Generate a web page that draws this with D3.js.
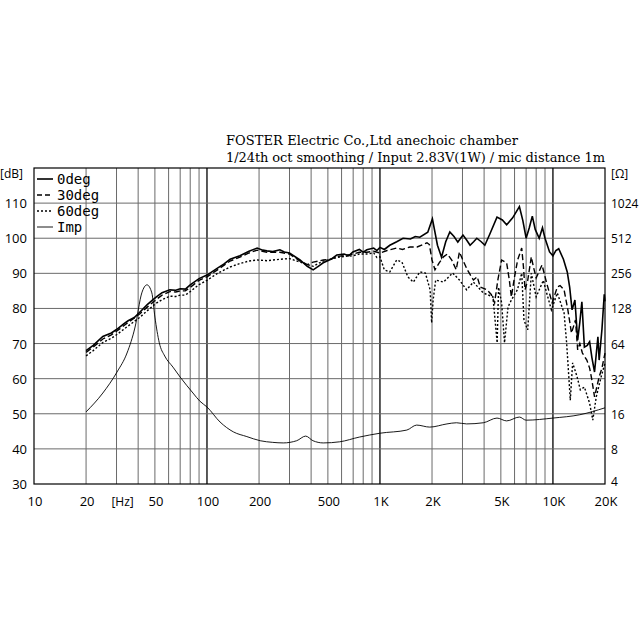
<!DOCTYPE html>
<html>
<head>
<meta charset="utf-8">
<script src="https://cdn.jsdelivr.net/npm/d3@7"></script>
<style>
  body { margin: 0; background: #fff; }
  svg { display: block; }
</style>
</head>
<body>
<div id="chart"></div>
<script>
// frequency response, [Hz, dB]
var deg0 = [
  [20, 68], [22, 69.5], [25, 72], [28, 73], [30, 74], [33, 75.6], [35, 76.5], [38, 77.4], [41, 79],
  [45, 81], [48, 82.2], [51, 83.3], [55, 84.5], [61, 85.3], [66, 85.2], [70, 85.6], [75, 85.5],
  [80, 86.7], [90, 88.5], [100, 89.5], [115, 91.5], [125, 92.6], [136, 94], [155, 95], [175, 96.3],
  [195, 97.2], [210, 96.6], [222, 96.4], [240, 96.2], [264, 96.7], [280, 96.1], [300, 95.8],
  [345, 93.8], [380, 92], [411, 91], [440, 92], [470, 93], [520, 94], [563, 95.2],
  [620, 95.5], [660, 95], [697, 96.1], [760, 96.8], [800, 96], [840, 96.7], [920, 97.2], [960, 96.5],
  [1000, 97.4], [1060, 96.8], [1140, 98], [1250, 99], [1360, 100], [1500, 99.8], [1600, 100.5],
  [1700, 100.3], [1890, 101.7], [2010, 105.5], [2150, 98], [2270, 94.6], [2400, 99], [2535, 101.8],
  [2680, 100.5], [2820, 98.9], [3020, 100.9], [3170, 99.5], [3320, 98], [3480, 99], [3630, 100],
  [3850, 99], [4040, 98], [4300, 101], [4750, 106], [5100, 105.2], [5400, 103.8], [5850, 105.8],
  [6400, 109], [6700, 105], [7000, 100], [7300, 103], [7600, 106.3], [7900, 102.5], [8330, 100],
  [8700, 103], [9000, 100], [9560, 96.1], [10000, 95], [10400, 96.5], [10800, 97], [11500, 94],
  [12100, 90.4], [12500, 86], [12900, 79.6], [13400, 82.4], [13900, 71], [14300, 76], [14700, 81.9],
  [15200, 69], [15800, 69.5], [16300, 70.5], [16800, 66], [17400, 61.9], [17800, 67], [18200, 71.9],
  [18500, 65.3], [19200, 74], [19800, 84], [20000, 82]
];

var deg30 = [
  [20, 67.5], [22, 69], [25, 71.3], [28, 72.5], [30, 73.5], [35, 76], [41, 78.5], [45, 80.3], [51, 82.6],
  [55, 83.8], [61, 84.8], [66, 84.7], [70, 85], [75, 85], [80, 86], [90, 88], [100, 89],
  [115, 91], [136, 93.5], [155, 94.6], [175, 95.8], [195, 96.6], [222, 96], [264, 96],
  [300, 95.5], [345, 93.5], [380, 92.5], [411, 93.2], [440, 93.5], [470, 93.8], [520, 94], [563, 94.8],
  [620, 95], [697, 95.5], [760, 96], [840, 96], [920, 96.3], [1000, 95.8], [1100, 96.5], [1250, 97.2],
  [1350, 96.8], [1490, 97.5], [1640, 97.5], [1870, 98.7], [1930, 98.2], [2000, 93.8], [2080, 91],
  [2200, 93], [2330, 94.7], [2450, 95.5], [2600, 93.8], [2760, 91], [2880, 96.1], [3000, 94],
  [3200, 91], [3470, 88.1], [3650, 89], [3800, 86.1], [4150, 85.3], [4400, 84], [4600, 81.6],
  [4800, 88], [5050, 93.8], [5400, 93], [5600, 88], [5750, 83.3], [6000, 89], [6250, 93.8],
  [6600, 97.2], [6750, 92], [6900, 85.3], [7150, 88], [7500, 94.7], [7700, 92], [8000, 88.7],
  [8650, 92.4], [9200, 87.2], [9900, 81.6], [10600, 86.1], [11000, 86.5], [11600, 85.3],
  [12200, 79.6], [12800, 73], [13500, 76.7], [13900, 68.2], [14300, 70], [14800, 67.3],
  [15700, 65.3], [16300, 63], [16800, 59.6], [17400, 54.8], [18000, 58], [18500, 60.5],
  [19200, 63], [20000, 67.3]
];

var deg60 = [
  [20, 66.5], [22, 68], [25, 70.3], [28, 71.5], [30, 72.5], [35, 75], [41, 77.5], [45, 79.3], [51, 81.5],
  [55, 82.5], [61, 83.5], [66, 83.4], [70, 83.8], [75, 83.8], [80, 84.8], [90, 86.8], [100, 88],
  [115, 90], [136, 91.8], [155, 92.8], [175, 93.5], [195, 93.8], [222, 93.6], [264, 94],
  [300, 94.2], [345, 93.2], [380, 92.5], [411, 92], [440, 92.8], [470, 93.5], [520, 94], [563, 94.5],
  [620, 94.8], [697, 95], [760, 95.5], [840, 95.5], [920, 95.8], [960, 94.5], [1000, 94.7],
  [1060, 91], [1140, 90.4], [1250, 93.8], [1340, 93.2], [1450, 89], [1560, 87.5], [1700, 90.4],
  [1830, 90.1], [1950, 85.3], [1990, 75.9], [2030, 82.4], [2100, 88.1], [2330, 87.5], [2630, 90.1],
  [2880, 88.1], [3170, 85.3], [3470, 87.5], [3960, 84.4], [4500, 83.3], [4760, 70.2], [4850, 86],
  [5050, 81.6], [5250, 70.2], [5500, 80.4], [5750, 82.4], [6230, 85.3], [6600, 90], [6800, 76.7],
  [7150, 73.9], [7500, 90], [8000, 83.3], [8800, 88], [9200, 84.4], [9800, 79.6], [10600, 84.4],
  [11600, 78.7], [12000, 70.2], [12600, 53.9], [13000, 64.5], [13800, 60.5], [14400, 56.8],
  [15200, 57.6], [16300, 53], [17000, 48.2], [17800, 54.8], [19000, 60.5], [20000, 64.5]
];

// impedance, [Hz, ohm]
var imp = [
  [20, 16.6], [25, 24.1], [30.2, 36.5], [34.5, 53.1], [38.4, 88.7], [42, 174], [45, 204],
  [48, 174], [50, 108], [53, 65], [57, 50], [63.6, 40.2], [70, 33], [83, 24.1], [91, 20.5],
  [100, 18.3], [119, 13.6], [142, 11.2], [170, 10.2], [203, 9.4], [240, 9.1], [276, 9.0],
  [330, 9.4], [372, 10.3], [410, 9.4], [470, 9.0], [585, 9.2], [760, 10.1], [1000, 10.9],
  [1430, 11.6], [1630, 12.8], [1940, 12.3], [2440, 13.1], [2770, 13.4], [3170, 13.1], [3960, 13.4],
  [4750, 14.7], [5400, 13.9], [6400, 15.0], [7000, 14.1], [10000, 14.7], [14300, 15.7], [20000, 18.0]
];

var dbTicks = [30, 40, 50, 60, 70, 80, 90, 100, 110];
var ohmTicks = [4, 8, 16, 32, 64, 128, 256, 512, 1024];
var freqLabels = [
  [10, "10"], [20, "20"], [50, "50"], [100, "100"], [200, "200"], [500, "500"],
  [1000, "1K"], [2000, "2K"], [5000, "5K"], [10000, "10K"], [20000, "20K"]
];
var legendItems = ["0deg", "30deg", "60deg", "Imp"];
var titleLines = [
  "FOSTER Electric Co.,Ltd  anechoic chamber",
  "1/24th oct smoothing / Input 2.83V(1W) / mic distance 1m"
];

var ctx = { w: 640, h: 640, left: 34, right: 605, top: 168, bottom: 484 };

var svg = d3.select("#chart").append("svg")
    .attr("width", ctx.w)
    .attr("height", ctx.h);

var x = d3.scaleLog().domain([10, 20000]).range([ctx.left, ctx.right]);
var y = d3.scaleLinear().domain([30, 120]).range([ctx.bottom, ctx.top]);
var yOhm = d3.scaleLog().base(2).domain([4, 2048]).range([ctx.bottom, ctx.top]);

// grid
var vLines = [];
[10, 100, 1000, 10000].forEach(function(dec) {
    for (var m = 1; m <= 9; m++) {
        var f = dec * m;
        if (f > 10 && f < 20000) vLines.push(f);
    }
});
var isDecade = d => [100, 1000, 10000].includes(d);
var grid = svg.append("g");
grid.selectAll("line.v")
    .data(vLines)
    .enter()
    .append("line")
    .attr("x1", d => x(d)).attr("x2", d => x(d))
    .attr("y1", ctx.top).attr("y2", ctx.bottom)
    .attr("stroke", d => isDecade(d) ? "#000" : "#6a6a6a")
    .attr("stroke-width", d => isDecade(d) ? 1.3 : 1);

grid.selectAll("line.h")
    .data(dbTicks.slice(1))
    .enter()
    .append("line")
    .attr("x1", ctx.left).attr("x2", ctx.right)
    .attr("y1", d => y(d)).attr("y2", d => y(d))
    .attr("stroke", "#6a6a6a")
    .attr("stroke-width", 1);

// curves
var dbLine = d3.line().x(d => x(d[0])).y(d => y(d[1]));
var ohmLine = d3.line().x(d => x(d[0])).y(d => yOhm(d[1])).curve(d3.curveMonotoneX);

var curves = svg.append("g").attr("fill", "none").attr("stroke", "#000");
curves.append("path").attr("d", ohmLine(imp)).attr("stroke-width", 0.9);
curves.append("path").attr("d", dbLine(deg60)).attr("stroke-width", 1.4).attr("stroke-dasharray", "2,2");
curves.append("path").attr("d", dbLine(deg30)).attr("stroke-width", 1.4).attr("stroke-dasharray", "6,3");
curves.append("path").attr("d", dbLine(deg0)).attr("stroke-width", 1.6);

// frame
svg.append("rect")
    .attr("x", ctx.left).attr("y", ctx.top)
    .attr("width", ctx.right - ctx.left).attr("height", ctx.bottom - ctx.top)
    .attr("fill", "none").attr("stroke", "#000").attr("stroke-width", 1.2);

// axis labels
var axisFont = "'Open Sans', sans-serif";
svg.selectAll("text.db")
    .data(dbTicks)
    .enter()
    .append("text")
    .attr("x", 27).attr("y", d => y(d) + 5)
    .attr("text-anchor", "end")
    .attr("font-family", axisFont).attr("font-size", "13px")
    .text(d => d);
svg.append("text")
    .attr("x", 0).attr("y", 178)
    .attr("font-family", axisFont).attr("font-size", "12px")
    .text("[dB]");

svg.selectAll("text.ohm")
    .data(ohmTicks)
    .enter()
    .append("text")
    .attr("x", 611).attr("y", d => yOhm(d) + (d === 4 ? 2 : 5))
    .attr("font-family", axisFont).attr("font-size", "12px")
    .text(d => d);
svg.append("text")
    .attr("x", 611).attr("y", 178)
    .attr("font-family", axisFont).attr("font-size", "12px")
    .text("[Ω]");

svg.selectAll("text.freq")
    .data(freqLabels)
    .enter()
    .append("text")
    .attr("x", d => x(d[0]) + 1).attr("y", 506)
    .attr("text-anchor", "middle")
    .attr("font-family", axisFont).attr("font-size", "13px")
    .text(d => d[1]);
svg.append("text")
    .attr("x", x(32.5)).attr("y", 506)
    .attr("text-anchor", "middle")
    .attr("font-family", axisFont).attr("font-size", "12px")
    .text("[Hz]");

// legend
var legend = svg.append("g").attr("transform", "translate(37,179)");
var dashes = [null, "5,3", "2,2", null];
var widths = [1.6, 1.4, 1.4, 0.9];
legendItems.forEach(function(name, i) {
    legend.append("line")
        .attr("x1", 0).attr("x2", 16)
        .attr("y1", i * 16).attr("y2", i * 16)
        .attr("stroke", "#000")
        .attr("stroke-width", widths[i])
        .attr("stroke-dasharray", dashes[i]);
    legend.append("text")
        .attr("x", 20).attr("y", i * 16 + 5)
        .attr("font-family", "'DejaVu Sans Mono', monospace")
        .attr("font-size", "14px")
        .text(name);
});

// title
var titleWidths = [292, 379];
svg.selectAll("text.title")
    .data(titleLines)
    .enter()
    .append("text")
    .attr("x", 226).attr("y", (d, i) => 145 + i * 17)
    .attr("font-family", "'DejaVu Serif', serif")
    .attr("font-size", "13px")
    .attr("textLength", (d, i) => titleWidths[i])
    .attr("lengthAdjust", "spacing")
    .text(d => d);
</script>
</body>
</html>
